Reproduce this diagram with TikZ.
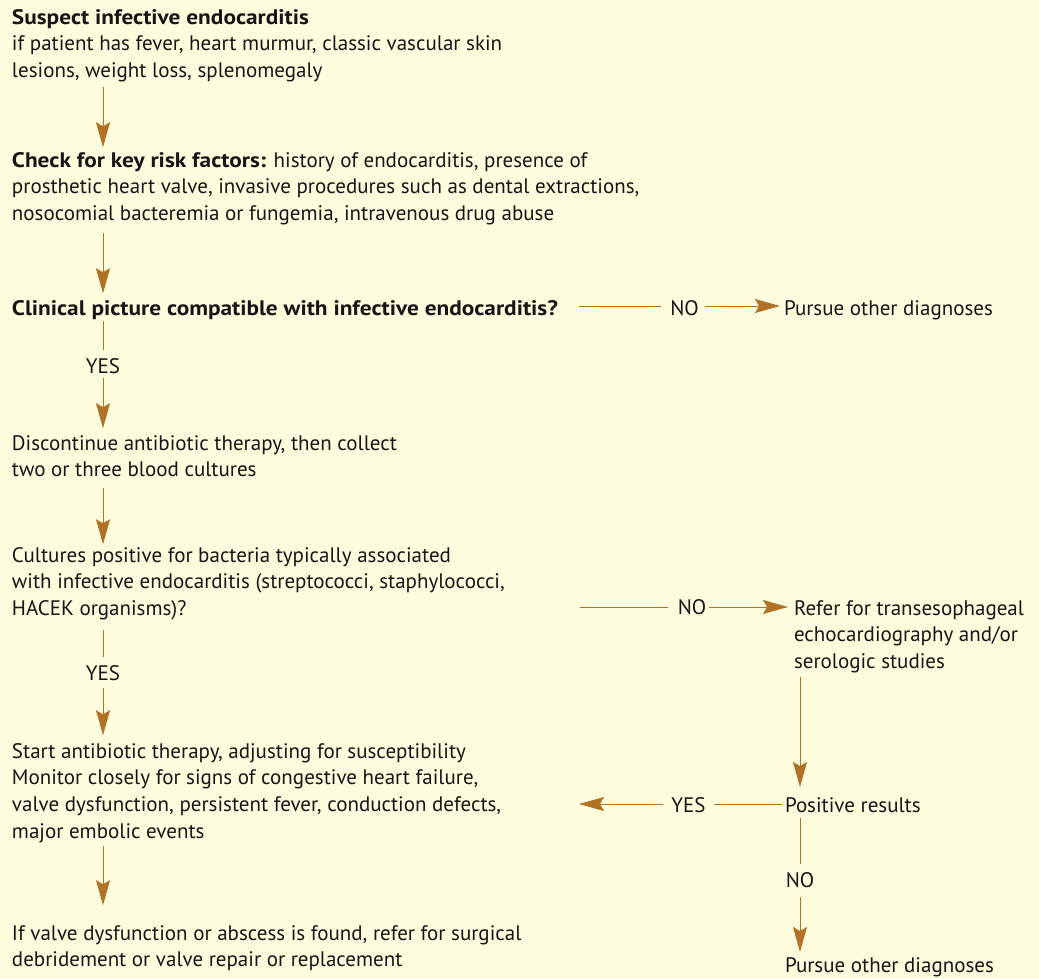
\documentclass[tikz,border=0pt]{standalone}
\usepackage{fontspec}
\setmainfont{PT Sans}[BoldFeatures={FakeStretch=1.11}]
\usetikzlibrary{arrows.meta,calc}
\definecolor{bgc}{RGB}{253,252,221}
\definecolor{arc}{RGB}{178,114,38}
\definecolor{txc}{RGB}{24,22,20}
\newcommand{\blk}[1]{\begin{tabular}[t]{@{}l@{}}#1\end{tabular}}
\begin{document}
\begin{tikzpicture}[x=1pt,y=-1pt,
  txt/.style={anchor=base west, inner sep=0pt, outer sep=0pt, text=txc,
    font=\fontsize{21}{26.8}\selectfont},
  lbl/.style={anchor=base, inner sep=0pt, outer sep=0pt, text=txc,
    font=\fontsize{21}{26.8}\selectfont},
  conn/.style={draw=arc, line width=1pt},
  arr/.style={conn, -{Stealth[length=25pt,width=14pt,inset=4pt]}}]
\fill[bgc] (0,0) rectangle (1039,978);
\useasboundingbox (0,0) rectangle (1039,978);
% left column
\node[txt] (b1) at (12,24) {\blk{\textbf{Suspect infective endocarditis}\\
  if patient has fever, heart murmur, classic vascular skin\\
  lesions, weight loss, splenomegaly}};
\node[txt] (b2) at (12,167) {\blk{\textbf{Check for key risk factors:} history of endocarditis, presence of\\
  prosthetic heart valve, invasive procedures such as dental extractions,\\
  nosocomial bacteremia or fungemia, intravenous drug abuse}};
\node[txt] (b3) at (12,315) {\blk{\textbf{Clinical picture compatible with infective endocarditis?}}};
\node[lbl] (yes1) at (103,373) {YES};
\node[txt] (b4) at (12,450) {\blk{Discontinue antibiotic therapy, then collect\\
  two or three blood cultures}};
\node[txt] (b5) at (12,562) {\blk{Cultures positive for bacteria typically associated\\
  with infective endocarditis (streptococci, staphylococci,\\
  HACEK organisms)?}};
\node[lbl] (yes2) at (103,680) {YES};
\node[txt] (b6) at (12,758) {\blk{Start antibiotic therapy, adjusting for susceptibility\\
  Monitor closely for signs of congestive heart failure,\\
  valve dysfunction, persistent fever, conduction defects,\\
  major embolic events}};
\node[txt] (b7) at (12,940) {\blk{If valve dysfunction or abscess is found, refer for surgical\\
  debridement or valve repair or replacement}};
% right column
\node[lbl] (no1) at (684.5,315) {NO};
\node[txt] (p1) at (784,315) {Pursue other diagnoses};
\node[lbl] (no2) at (692,614) {NO};
\node[txt] (r1) at (794,615) {\blk{Refer for transesophageal\\
  echocardiography and/or\\
  serologic studies}};
\node[txt] (pos) at (785,812) {Positive results};
\node[lbl] (yes3) at (688.5,812) {YES};
\node[lbl] (no3) at (800,887) {NO};
\node[txt] (p2) at (785,972) {Pursue other diagnoses};
% free ends
\coordinate (c3a) at (579,306);
\coordinate (c5a) at (580,607);
\coordinate (c6a) at (579,804);
% vertical connectors, left spine
\draw[arr] ($(b1.south west)+(91,1.5)$) -- ($(b2.north west)+(91,-1)$);
\draw[arr] ($(b2.south west)+(91,4)$) -- ($(b3.north west)+(91,-3)$);
\draw[conn] ($(b3.south west)+(91,-2)$) -- ($(yes1.north)+(0,-8)$);
\draw[arr] ($(yes1.base)+(0,5)$) -- ($(b4.north west)+(91,-3)$);
\draw[arr] ($(b4.south west)+(91,3)$) -- ($(b5.north west)+(91,1)$);
\draw[conn] ($(b5.south west)+(91,6)$) -- ($(yes2.north)+(0,-8)$);
\draw[arr] ($(yes2.base)+(0,8)$) -- ($(b6.north west)+(91,-4)$);
\draw[arr] ($(b6.south west)+(91,0)$) -- ($(b7.north west)+(91,-16)$);
% horizontal connectors
\draw[conn] (c3a) -- ($(no1.base west)+(-9,-9)$);
\draw[arr] ($(no1.base east)+(6,-9)$) -- ($(p1.base west)+(-4,-9)$);
\draw[conn] (c5a) -- ($(no2.base west)+(-10,-7)$);
\draw[arr] ($(no2.base east)+(3,-7)$) -- ($(r1.base west)+(-6,-8)$);
% right spine
\draw[arr] ($(r1.south west)+(6,0)$) -- ($(pos.base west)+(15,-25)$);
\draw[conn] ($(pos.base west)+(-3,-8)$) -- ($(yes3.base east)+(8,-8)$);
\draw[arr] ($(yes3.base west)+(-8,-8)$) -- (c6a);
\draw[conn] ($(pos.base west)+(15,6)$) -- ($(no3.north)+(0,-8)$);
\draw[arr] ($(no3.base)+(0,10)$) -- ($(p2.base west)+(15,-20)$);
\end{tikzpicture}
\end{document}
